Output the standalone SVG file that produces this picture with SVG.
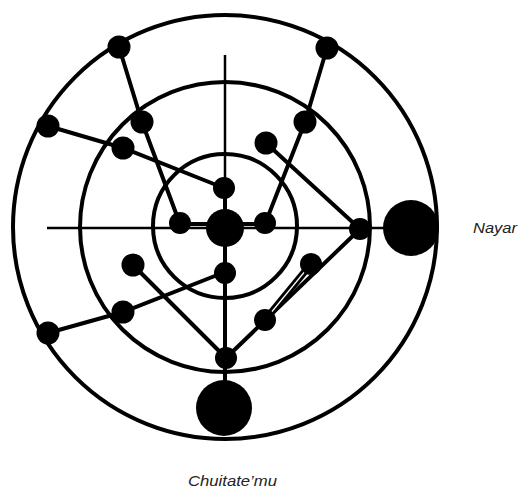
<svg xmlns="http://www.w3.org/2000/svg" width="519" height="489" viewBox="0 0 519 489">
  <style>
    .ring { fill: none; stroke: #000; stroke-width: 4; }
    .axis { stroke: #000; stroke-width: 2.5; fill: none; }
    .edge { stroke: #000; stroke-width: 4; fill: none; stroke-linecap: round; }
    .node { fill: #000; }
    .label { font-family: "Liberation Sans", Arial, sans-serif; font-style: italic; font-size: 15px; fill: #222; }
  </style>
  <rect width="519" height="489" fill="#fff"/>
  <g id="rings">
    <circle class="ring" cx="225" cy="227" r="212"/>
    <circle class="ring" cx="225" cy="227" r="145"/>
    <circle class="ring" cx="225" cy="226" r="72"/>
  </g>
  <g id="connectors">
    <line class="axis" x1="225" y1="55" x2="225" y2="385"/>
    <line class="axis" x1="47" y1="228" x2="390" y2="228" stroke-width="3"/>
    <line class="edge" x1="225" y1="188" x2="225" y2="385"/>
    <line class="edge" x1="180" y1="224" x2="265" y2="224"/>
    <polyline class="edge" points="119,47 142,122 180,224"/>
    <polyline class="edge" points="48,126 123,148 224,188"/>
    <polyline class="edge" points="327,48 305,122 265,224"/>
    <line class="edge" x1="266" y1="143" x2="360" y2="229"/>
    <line class="edge" x1="360" y1="229" x2="226" y2="358"/>
    <line class="edge" x1="133" y1="265" x2="226" y2="358"/>
    <polyline class="edge" points="48,333 123,312 225,272"/>
    <line x1="311" y1="264" x2="265" y2="320" stroke="#000" stroke-width="7" stroke-linecap="round"/>
    <line x1="306" y1="270" x2="270" y2="314" stroke="#fff" stroke-width="1.2"/>
  </g>
  <g id="n-center"><circle class="node" cx="225" cy="228" r="19"/></g>
  <g id="n-in-top"><circle class="node" cx="224" cy="188" r="11"/></g>
  <g id="n-in-left"><circle class="node" cx="180" cy="223" r="11"/></g>
  <g id="n-in-right"><circle class="node" cx="265" cy="223" r="11"/></g>
  <g id="n-in-bottom"><circle class="node" cx="225" cy="273" r="11"/></g>
  <g id="n-right"><circle class="node" cx="360" cy="229" r="11"/></g>
  <g id="n-bottom"><circle class="node" cx="226" cy="358" r="11"/></g>
  <g id="n-ur-inner"><circle class="node" cx="266" cy="143" r="11.5"/></g>
  <g id="n-ur-mid"><circle class="node" cx="305" cy="122" r="11.5"/></g>
  <g id="n-ur-outer"><circle class="node" cx="327" cy="48" r="11.5"/></g>
  <g id="n-ul-outer"><circle class="node" cx="119" cy="47" r="11.5"/></g>
  <g id="n-ul-mid"><circle class="node" cx="142" cy="122" r="11.5"/></g>
  <g id="n-l-outer"><circle class="node" cx="48" cy="126" r="11.5"/></g>
  <g id="n-l-mid"><circle class="node" cx="123" cy="148" r="11.5"/></g>
  <g id="n-ll-inner"><circle class="node" cx="133" cy="265" r="11.5"/></g>
  <g id="n-ll-mid"><circle class="node" cx="123" cy="312" r="11.5"/></g>
  <g id="n-ll-outer"><circle class="node" cx="48" cy="333" r="11.5"/></g>
  <g id="n-lr-a"><circle class="node" cx="311" cy="264" r="11"/></g>
  <g id="n-lr-b"><circle class="node" cx="265" cy="320" r="11"/></g>
  <g id="n-nayar"><circle class="node" cx="411" cy="228" r="28"/></g>
  <g id="n-chuitatemu"><circle class="node" cx="224" cy="408" r="28"/></g>
  <text class="label" x="473" y="233" textLength="44" lengthAdjust="spacingAndGlyphs">Nayar</text>
  <text class="label" x="188" y="486" textLength="89" lengthAdjust="spacingAndGlyphs">Chuitate’mu</text>
</svg>
